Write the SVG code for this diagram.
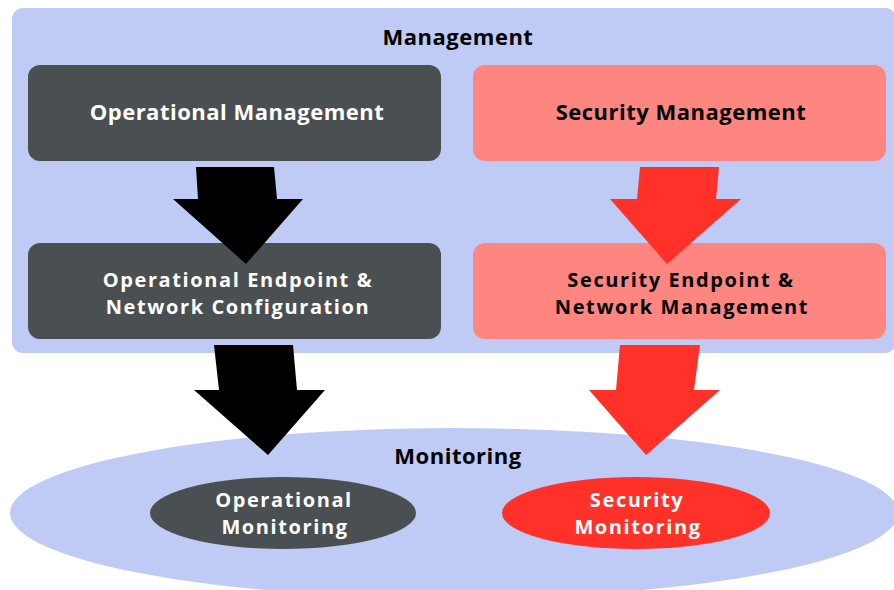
<svg xmlns="http://www.w3.org/2000/svg" width="894" height="590" viewBox="0 0 894 590">
<style>
text{font-family:"Open Sans","Liberation Sans",sans-serif;font-weight:bold;text-anchor:middle}
.t{font-size:22px;letter-spacing:0.5px}
.t2{font-size:20px;letter-spacing:1.6px}
.cont{fill:#bfcbf4}
.dark{fill:#4a5052}
.salmon{fill:#ff8680}
.red{fill:#ff3128}
.w{fill:#ffffff}
.k{fill:#000000}
</style>
<rect width="894" height="590" fill="#ffffff"/>
<g id="management">
<rect class="cont" x="12" y="8" width="884" height="345" rx="11"/>
<text class="t k" x="458" y="45">Management</text>
</g>
<g id="monitoring">
<ellipse class="cont" cx="454" cy="513" rx="444" ry="85"/>
<text class="t k" x="458" y="464">Monitoring</text>
</g>
<g id="op-mgmt">
<rect class="dark" x="28" y="65" width="413" height="96" rx="12"/>
<text class="t w" x="237" y="120">Operational Management</text>
</g>
<g id="sec-mgmt">
<rect class="salmon" x="473" y="65" width="413" height="96" rx="12"/>
<text class="t k" x="681" y="120">Security Management</text>
</g>
<g id="op-config">
<rect class="dark" x="28" y="243" width="413" height="96" rx="12"/>
<text class="t2 w" x="238" y="287">Operational Endpoint &amp;</text>
<text class="t2 w" x="238" y="314.4">Network Configuration</text>
</g>
<g id="sec-net">
<rect class="salmon" x="473" y="243" width="413" height="96" rx="12"/>
<text class="t2 k" x="681" y="287">Security Endpoint &amp;</text>
<text class="t2 k" x="682" y="314.4">Network Management</text>
</g>
<g id="connectors">
<polygon class="k" points="196,167 274,167 277,199 303,199 246,264 173,199 198,199"/>
<polygon class="red" points="640,167 719,167 716,199 741,199 667,264 610,199 637,199"/>
<polygon class="k" points="214,345 293,345 297,390 325,390 268,455 194,390 219,390"/>
<polygon class="red" points="620,345 700,345 694,390 720,390 646,455 589,390 616,390"/>
</g>
<g id="op-mon">
<ellipse class="dark" cx="283" cy="513" rx="133" ry="36"/>
<text class="t2 w" x="284" y="507">Operational</text>
<text class="t2 w" x="285" y="534.4">Monitoring</text>
</g>
<g id="sec-mon">
<ellipse class="red" cx="636" cy="513" rx="134" ry="36"/>
<text class="t2 w" x="637" y="507">Security</text>
<text class="t2 w" x="638" y="534.4">Monitoring</text>
</g>
</svg>
